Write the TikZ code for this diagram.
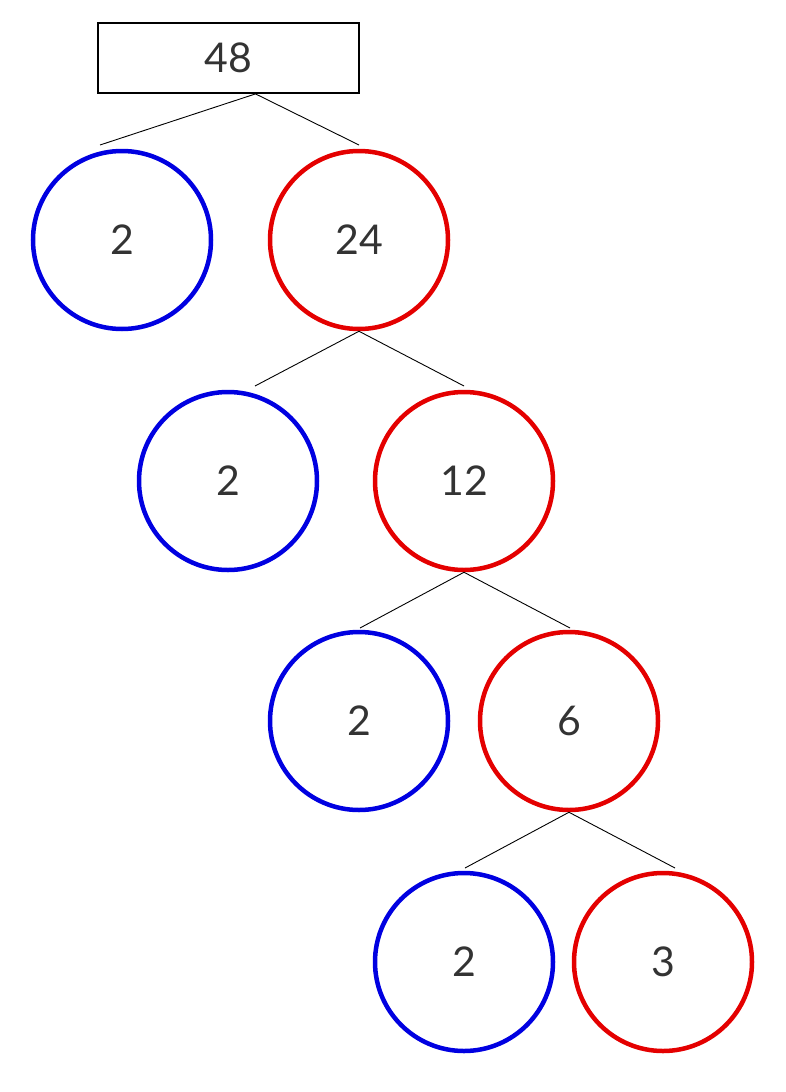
\documentclass[tikz,border=0pt]{standalone}
\usepackage{fontspec}
\setmainfont{Lato}
\usepackage{tikz}
\definecolor{treeblue}{RGB}{0,0,225}
\definecolor{treered}{RGB}{228,0,0}
\definecolor{digit}{RGB}{51,51,51}

\begin{document}
\begin{tikzpicture}[x=1pt,y=-1pt,
  factor/.style={circle,line width=4.5pt,minimum size=178pt,inner sep=0pt,
    text=digit,font=\fontsize{41}{48}\selectfont},
  prime/.style={factor,draw=treeblue},
  composite/.style={factor,draw=treered},
  branch/.style={line width=0.9pt}]
  \useasboundingbox (0,0) rectangle (786,1092);
  \node[draw,line width=1.8pt,minimum width=261pt,minimum height=70pt,
    text=digit,font=\fontsize{41}{48}\selectfont] (n48) at (228.5,58) {48};
  \node[prime] (p1) at (122,240) {2};
  \node[composite] (n24) at (359,240) {24};
  \node[prime] (p2) at (228,481) {2};
  \node[composite] (n12) at (464,481) {12};
  \node[prime] (p3) at (359,721) {2};
  \node[composite] (n6) at (569,721) {6};
  \node[prime] (p4) at (464,962) {2};
  \node[composite] (n3) at (663,962) {3};
  \coordinate (top) at ([xshift=27pt]n48.south);
  \coordinate (a1) at (100,145);
  \coordinate (b1) at (359,145);
  \coordinate (a2) at (255,386);
  \coordinate (b2) at (464,386);
  \coordinate (a3) at (360,628);
  \coordinate (b3) at (570,628);
  \coordinate (a4) at (465,868);
  \coordinate (b4) at (675,868);
  \foreach \from/\n in {top/1,n24.south/2,n12.south/3,n6.south/4}
  \draw[branch] (a\n) -- (\from) -- (b\n);
\end{tikzpicture}
\end{document}
